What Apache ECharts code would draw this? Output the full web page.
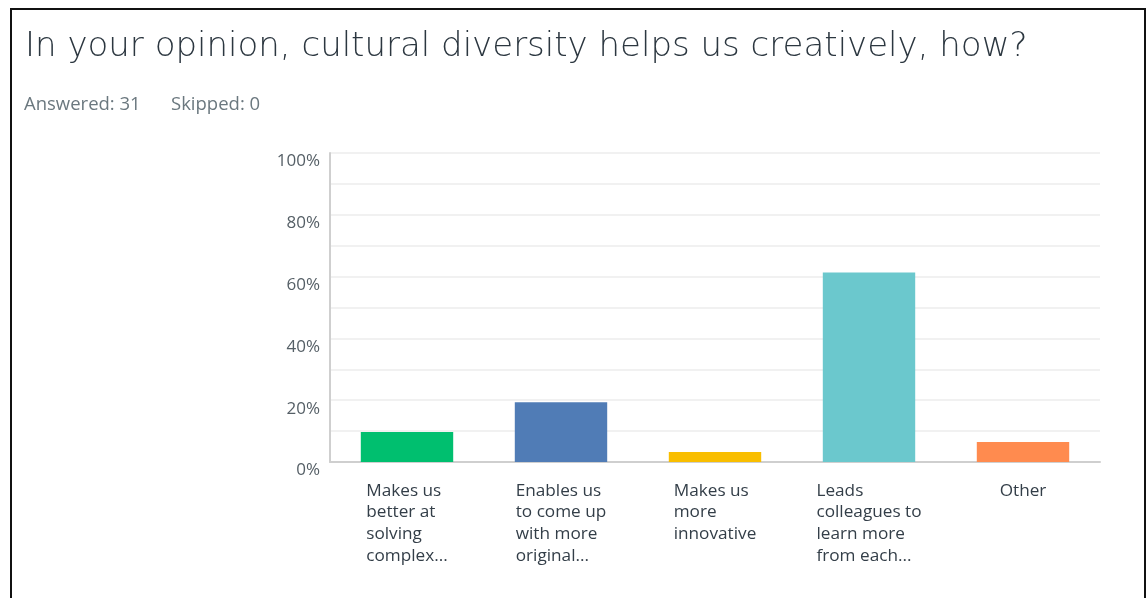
<!DOCTYPE html>
<html>
<head>
<meta charset="utf-8">
<script src="https://cdn.jsdelivr.net/npm/echarts@6/dist/echarts.min.js"></script>
<style>
  html, body { margin: 0; padding: 0; background: #fff; }
  #chart { width: 1148px; height: 598px; }
</style>
</head>
<body>
<div id="chart"></div>
<script>
// Survey question responses (31 answered)
const categories = [
  ['Makes us', 'better at', 'solving', 'complex...'],
  ['Enables us', 'to come up', 'with more', 'original...'],
  ['Makes us', 'more', 'innovative'],
  ['Leads', 'colleagues to', 'learn more', 'from each...'],
  ['Other']
];
const percentValues = [9.68, 19.35, 3.23, 61.29, 6.45];
const barColors = ['#00bf6f', '#507cb6', '#f9be00', '#6bc8cd', '#ff8b4f'];
const yTicks = [0, 20, 40, 60, 80, 100];

const chart = echarts.init(document.getElementById('chart'));

const labelFont = '"Open Sans", "Noto Sans", sans-serif';
const metaStyle = {
  fontFamily: labelFont,
  fontSize: 18.5,
  fontWeight: 'normal',
  color: '#6b787f'
};

chart.setOption({
  animation: false,
  backgroundColor: '#ffffff',
  title: [
    {
      text: 'In your opinion, cultural diversity helps us creatively, how?',
      left: 20,
      top: 25,
      textStyle: {
        fontFamily: '"DejaVu Sans", sans-serif',
        fontSize: 34,
        fontWeight: 200,
        color: '#2c3740'
      }
    },
    { text: 'Answered: 31', left: 19, top: 90, textStyle: metaStyle },
    { text: 'Skipped: 0', left: 166, top: 90, textStyle: metaStyle }
  ],
  graphic: [
    {
      type: 'rect',
      shape: { x: 11, y: 9, width: 1134, height: 700 },
      style: { fill: 'none', stroke: '#111', lineWidth: 2 },
      silent: true
    }
  ],
  grid: { left: 330, right: 48, top: 153, bottom: 136 },
  xAxis: {
    type: 'category',
    data: categories.map(lines => lines.join('\n')),
    axisLine: { lineStyle: { color: '#cfcfcf', width: 2 } },
    axisTick: { show: false },
    axisLabel: {
      interval: 0,
      margin: 18,
      align: 'center',
      verticalAlign: 'top',
      formatter: v => v.split('\n').map(l => '{a|' + l + '}').join('\n'),
      rich: {
        a: {
          align: 'left',
          fontFamily: labelFont,
          fontSize: 17.2,
          lineHeight: 21.7,
          color: '#333e48'
        }
      }
    }
  },
  yAxis: {
    type: 'value',
    min: yTicks[0],
    max: yTicks[yTicks.length - 1],
    interval: 10,
    axisLine: { show: true, lineStyle: { color: '#cfcfcf', width: 2 } },
    axisTick: { show: false },
    splitLine: { lineStyle: { color: '#ededed', width: 1.5 } },
    axisLabel: {
      margin: 10,
      verticalAlign: 'top',
      fontFamily: labelFont,
      fontSize: 17,
      color: '#555f66',
      formatter: v => (yTicks.indexOf(v) >= 0 ? v + '%' : '')
    }
  },
  series: [
    {
      type: 'bar',
      barWidth: '60%',
      data: percentValues.map((v, i) => ({ value: v, itemStyle: { color: barColors[i] } })),
      label: { show: false }
    }
  ]
});
</script>
</body>
</html>
